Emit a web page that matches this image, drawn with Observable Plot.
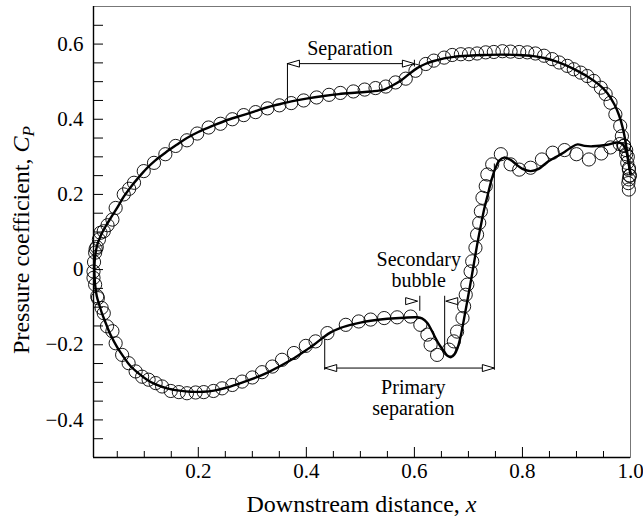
<!DOCTYPE html>
<html>
<head>
<meta charset="utf-8">
<script src="https://cdn.jsdelivr.net/npm/d3@7"></script>
<script src="https://cdn.jsdelivr.net/npm/@observablehq/plot@0.6"></script>
<style>
  html, body { margin: 0; padding: 0; background: #fff; }
</style>
</head>
<body>
<div id="chart"></div>
<script>
// ---------- data ----------
const upperLineX = [0.0075,0.009,0.013,0.02,0.028,0.04,0.05,0.062,0.074,0.09,0.105,0.12,0.139,0.16,0.179,0.2,0.229,0.25,0.278,0.309,0.328,0.35,0.377,0.4,0.432,0.46,0.494,0.52,0.544,0.556,0.575,0.59,0.605,0.62,0.636,0.655,0.673,0.7,0.729,0.76,0.791,0.82,0.84,0.862,0.883,0.9,0.92,0.94,0.957,0.97,0.979,0.986,0.991,0.995,0.998,1.0];
const upperLineY = [0.0,0.035,0.066,0.092,0.114,0.142,0.165,0.194,0.218,0.246,0.27,0.29,0.311,0.332,0.35,0.366,0.384,0.396,0.409,0.423,0.432,0.44,0.449,0.455,0.462,0.467,0.471,0.474,0.479,0.487,0.503,0.52,0.536,0.547,0.555,0.562,0.566,0.569,0.571,0.572,0.571,0.568,0.563,0.554,0.542,0.53,0.514,0.494,0.47,0.44,0.41,0.375,0.338,0.3,0.27,0.255];

const lowerLineX = [0.0075,0.009,0.012,0.017,0.022,0.028,0.038,0.05,0.062,0.074,0.09,0.105,0.12,0.142,0.165,0.186,0.21,0.229,0.25,0.278,0.3,0.328,0.35,0.377,0.4,0.414,0.43,0.445,0.46,0.48,0.5,0.519,0.55,0.581,0.605,0.614,0.624,0.632,0.639,0.647,0.655,0.662,0.668,0.674,0.68,0.686,0.692,0.698,0.704,0.71,0.716,0.722,0.729,0.736,0.743,0.75,0.757,0.766,0.778,0.79,0.8,0.815,0.83,0.845,0.86,0.875,0.89,0.902,0.915,0.93,0.957,0.975,0.985,0.992,0.997,1.0];
const lowerLineY = [0.0,-0.04,-0.07,-0.095,-0.118,-0.14,-0.175,-0.207,-0.233,-0.256,-0.277,-0.293,-0.305,-0.316,-0.322,-0.325,-0.325,-0.322,-0.315,-0.302,-0.291,-0.274,-0.258,-0.236,-0.214,-0.2,-0.182,-0.167,-0.157,-0.148,-0.141,-0.136,-0.131,-0.128,-0.127,-0.13,-0.142,-0.162,-0.182,-0.202,-0.218,-0.23,-0.233,-0.226,-0.208,-0.175,-0.13,-0.083,-0.035,0.015,0.065,0.11,0.16,0.2,0.24,0.27,0.29,0.298,0.292,0.278,0.268,0.262,0.268,0.285,0.298,0.31,0.325,0.333,0.329,0.328,0.332,0.338,0.334,0.315,0.28,0.255];

const upperDotX = [0.006,0.007,0.009,0.010,0.012,0.016,0.019,0.025,0.032,0.041,0.047,0.062,0.072,0.081,0.099,0.118,0.139,0.158,0.179,0.198,0.219,0.241,0.263,0.284,0.306,0.328,0.35,0.372,0.395,0.419,0.442,0.463,0.487,0.508,0.528,0.547,0.565,0.584,0.602,0.621,0.636,0.655,0.670,0.686,0.701,0.716,0.732,0.747,0.763,0.778,0.794,0.809,0.824,0.84,0.855,0.868,0.883,0.895,0.908,0.92,0.932,0.945,0.954,0.963,0.972,0.981,0.984,0.988,0.992,0.994,0.997,0.998,0.997,0.996,0.997];
const upperDotY = [-0.005,0.02,0.045,0.055,0.06,0.08,0.098,0.102,0.118,0.133,0.164,0.2,0.215,0.231,0.262,0.284,0.307,0.329,0.344,0.362,0.378,0.388,0.40,0.411,0.419,0.429,0.437,0.443,0.45,0.458,0.465,0.47,0.474,0.479,0.483,0.487,0.498,0.508,0.529,0.547,0.556,0.564,0.571,0.573,0.573,0.575,0.578,0.579,0.581,0.58,0.579,0.578,0.575,0.569,0.56,0.551,0.542,0.533,0.524,0.515,0.502,0.484,0.467,0.444,0.413,0.382,0.355,0.329,0.307,0.284,0.266,0.25,0.24,0.23,0.213];

const lowerDotX = [0.006,0.009,0.013,0.014,0.021,0.025,0.031,0.041,0.047,0.059,0.071,0.084,0.096,0.108,0.121,0.133,0.149,0.164,0.179,0.195,0.21,0.228,0.244,0.263,0.281,0.30,0.318,0.337,0.355,0.377,0.399,0.417,0.439,0.473,0.497,0.519,0.544,0.568,0.593,0.611,0.624,0.63,0.642,0.664,0.673,0.679,0.689,0.692,0.695,0.698,0.704,0.707,0.713,0.716,0.72,0.723,0.726,0.732,0.735,0.744,0.76,0.778,0.794,0.815,0.836,0.856,0.878,0.9,0.923,0.946,0.963,0.98,0.988,0.992,0.995,0.997,0.999];
const lowerDotY = [-0.022,-0.04,-0.071,-0.076,-0.102,-0.116,-0.151,-0.164,-0.196,-0.227,-0.249,-0.271,-0.285,-0.293,-0.302,-0.311,-0.323,-0.326,-0.329,-0.327,-0.326,-0.323,-0.316,-0.307,-0.298,-0.287,-0.273,-0.258,-0.24,-0.222,-0.203,-0.191,-0.169,-0.147,-0.138,-0.133,-0.129,-0.127,-0.125,-0.147,-0.173,-0.2,-0.227,-0.213,-0.191,-0.165,-0.129,-0.098,-0.067,-0.04,-0.005,0.022,0.058,0.093,0.124,0.155,0.191,0.222,0.253,0.28,0.307,0.28,0.266,0.271,0.293,0.311,0.318,0.307,0.293,0.309,0.325,0.334,0.33,0.318,0.3,0.27,0.25];

const xLabelTicks = [0.2, 0.4, 0.6, 0.8, 1.0];
const xMinorTicks = [0.05,0.1,0.15,0.25,0.3,0.35,0.45,0.5,0.55,0.65,0.7,0.75,0.85,0.9,0.95];
const yLabelTicks = [-0.4, -0.2, 0, 0.2, 0.4, 0.6];
const yAllTicks = [-0.45,-0.4,-0.35,-0.3,-0.25,-0.2,-0.15,-0.1,-0.05,0,0.05,0.1,0.15,0.2,0.25,0.3,0.35,0.4,0.45,0.5,0.55,0.6,0.65];

// annotations (data coordinates)
const hBrackets = [{y: 0.548, x1: 0.365, x2: 0.600}, {y: -0.262, x1: 0.434, x2: 0.748}];
const vBrackets = [
  {x: 0.365, y1: 0.548, y2: 0.444},
  {x: 0.600, y1: 0.557, y2: 0.539},
  {x: 0.434, y1: -0.186, y2: -0.268},
  {x: 0.748, y1: 0.281, y2: -0.268},
  {x: 0.610, y1: -0.071, y2: -0.111},
  {x: 0.656, y1: -0.071, y2: -0.222}
];
const arrowsRight = [{x: 0.600, y: 0.548}, {x: 0.748, y: -0.262}, {x: 0.606, y: -0.084}];
const arrowsLeft = [{x: 0.365, y: 0.548}, {x: 0.434, y: -0.262}, {x: 0.658, y: -0.084}];
const notes = [
  {x: 0.4806, y: 0.589, text: "Separation"},
  {x: 0.608, y: 0.0, text: "Secondary\nbubble"},
  {x: 0.598, y: -0.342, text: "Primary\nseparation"}
];

// ---------- build ----------
const zip = (xs, ys) => xs.map((x, i) => ({x, y: ys[i]}));
const upperLine = zip(upperLineX, upperLineY);
const lowerLine = zip(lowerLineX, lowerLineY);
const upperDots = zip(upperDotX, upperDotY);
const lowerDots = zip(lowerDotX, lowerDotY);

const xDomain = [0.006, 1.0];
const yDomain = [-0.5, 0.7];
const W = 643, H = 521, mL = 93, mR = 13, mT = 6, mB = 64;
const frameW = W - mL - mR, frameH = H - mT - mB;

const triRight = {draw(ctx) { ctx.moveTo(0, 0); ctx.lineTo(-12, -3.5); ctx.lineTo(-12, 3.5); ctx.closePath(); }};
const triLeft = {draw(ctx) { ctx.moveTo(0, 0); ctx.lineTo(12, -3.5); ctx.lineTo(12, 3.5); ctx.closePath(); }};

const font = "Liberation Serif";
const fmtY = d => d === 0 ? "0" : d3.format(".1f")(d);

const svg = Plot.plot({
  width: W, height: H,
  marginLeft: mL, marginRight: mR, marginTop: mT, marginBottom: mB,
  x: {domain: xDomain, axis: null},
  y: {domain: yDomain, axis: null},
  style: {fontFamily: font, background: "#fff", color: "#000"},
  marks: [
    Plot.frame({stroke: "#777", strokeWidth: 1}),
    Plot.ruleX([xDomain[0]], {stroke: "#000", strokeWidth: 1.4}),
    Plot.ruleY([yDomain[0]], {stroke: "#000", strokeWidth: 1.4}),
    // inward ticks
    Plot.tickX(xLabelTicks.filter(d => d < 1), {x: d => d, insetTop: frameH - 10, stroke: "#000", strokeWidth: 1}),
    Plot.tickX(xMinorTicks, {x: d => d, insetTop: frameH - 6, stroke: "#000", strokeWidth: 1}),
    Plot.tickY(yAllTicks, {y: d => d, insetRight: frameW - 10, stroke: "#000", strokeWidth: 1}),
    // tick labels
    Plot.text(xLabelTicks, {x: d => d, frameAnchor: "bottom", dy: 20, text: d => d.toFixed(1), fontSize: 21, fontFamily: font, fill: "#000"}),
    Plot.text(yLabelTicks, {y: d => d, frameAnchor: "left", dx: -10, textAnchor: "end", text: fmtY, fontSize: 21, fontFamily: font, fill: "#000"}),
    // data
    Plot.line(upperLine, {x: "x", y: "y", curve: "catmull-rom", stroke: "#000", strokeWidth: 2.4}),
    Plot.line(lowerLine, {x: "x", y: "y", curve: "catmull-rom", stroke: "#000", strokeWidth: 2.4}),
    Plot.dot(upperDots, {x: "x", y: "y", r: 6.6, stroke: "#000", strokeWidth: 0.9, fill: "none"}),
    Plot.dot(lowerDots, {x: "x", y: "y", r: 6.6, stroke: "#000", strokeWidth: 0.9, fill: "none"}),
    // annotations
    Plot.ruleY(hBrackets, {y: "y", x1: "x1", x2: "x2", stroke: "#000", strokeWidth: 1}),
    Plot.ruleX(vBrackets, {x: "x", y1: "y1", y2: "y2", stroke: "#000", strokeWidth: 1}),
    Plot.dot(arrowsRight, {x: "x", y: "y", symbol: triRight, r: 4, fill: "#fff", stroke: "#000", strokeWidth: 1}),
    Plot.dot(arrowsLeft, {x: "x", y: "y", symbol: triLeft, r: 4, fill: "#fff", stroke: "#000", strokeWidth: 1}),
    Plot.text(notes, {x: "x", y: "y", text: "text", fontSize: 20, lineHeight: 1.05, fontFamily: font, fill: "#000"})
  ]
});

// axis titles with italic math parts
const s = d3.select(svg);
const xt = s.append("text")
  .attr("x", mL + frameW / 2).attr("y", 512)
  .attr("text-anchor", "middle")
  .attr("font-family", font).attr("font-size", 24).attr("fill", "#000");
xt.append("tspan").text("Downstream distance, ");
xt.append("tspan").attr("font-style", "italic").text("x");

const yt = s.append("text")
  .attr("transform", "translate(29,240) rotate(-90)")
  .attr("text-anchor", "middle")
  .attr("font-family", font).attr("font-size", 24).attr("fill", "#000");
yt.append("tspan").text("Pressure coefficient, ");
yt.append("tspan").attr("font-style", "italic").text("C");
yt.append("tspan").attr("font-style", "italic").attr("font-size", 17).attr("dy", 5).text("P");

document.getElementById("chart").appendChild(svg);
</script>
</body>
</html>
